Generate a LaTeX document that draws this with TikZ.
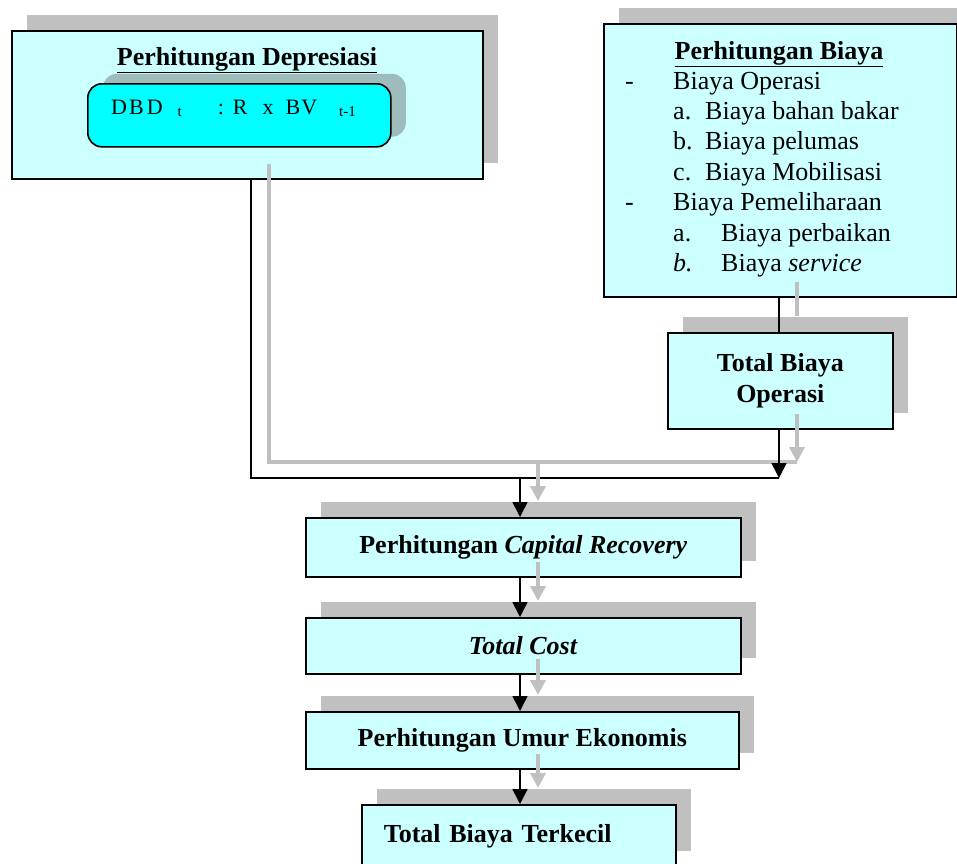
\documentclass[tikz,border=0pt]{standalone}
\usepackage{fontspec}
\setmainfont{Liberation Serif}
\usetikzlibrary{arrows.meta,shadows}
\definecolor{boxcyan}{RGB}{204,255,255}
\definecolor{formcyan}{RGB}{0,255,255}
\definecolor{shadowgray}{RGB}{192,192,192}
\definecolor{formgray}{RGB}{158,188,188}
\newcommand{\subt}[1]{\raisebox{-2pt}{\fontsize{15}{15}\selectfont #1}}
\begin{document}
\begin{tikzpicture}[x=1pt, y=-1pt, font=\fontsize{26}{30.4}\selectfont,
		box/.style = {draw, line width=1.6pt, fill=boxcyan, anchor=north west, inner sep=0pt, font=\fontsize{26}{30.4}\selectfont\bfseries, drop shadow={shadow xshift=15.5pt, shadow yshift=16pt, fill=shadowgray, opacity=1}},
		form/.style = {draw, line width=1.6pt, fill=formcyan, rounded corners=14pt, anchor=north west, inner sep=0pt, drop shadow={shadow xshift=15pt, shadow yshift=10pt, fill=formgray, opacity=1}},
		title/.style = {anchor=base, inner sep=0pt, font=\fontsize{26}{30.4}\selectfont\bfseries},
		conn/.style = {draw=black, line width=1.5pt, preaction={draw=shadowgray, line width=4pt, transform canvas={shift={(18pt,16pt)}}}},
		tip/.style = {-{Triangle[width=15pt,length=15pt]}}]
	\useasboundingbox (0,0) rectangle (957,863);
	% depresiasi
	\node[box, minimum width=471, minimum height=148] (depr) at (11,30) {};
	\node[title] (deprT) at (247,65) {\underline{Perhitungan Depresiasi}};
	\node[form, minimum width=303, minimum height=63] (rumus) at (87,83) {};
	\node[anchor=base west, inner sep=0pt, font=\fontsize{22}{24}\selectfont] (rumusT) at (111,114) {D\hspace{2pt}B\hspace{3pt}D\hspace{15pt}\subt{t}\hspace{36pt}:\hspace{9pt}R\hspace{15pt}x\hspace{12pt}B\hspace{1pt}V\hspace{22pt}\subt{t-1}};
	% biaya
	\node[box, minimum width=353, minimum height=273] (biaya) at (603,23) {};
	\node[title] (biayaT) at (779,59) {\underline{Perhitungan Biaya}};
	\node[anchor=base west, inner sep=0pt] (biayaL) at (625,89) {\begin{tabular}[t]{@{}l@{}}
		\makebox[48pt][l]{-}Biaya Operasi\\
		\hspace{48pt}\makebox[32pt][l]{a.}Biaya bahan bakar\\
		\hspace{48pt}\makebox[32pt][l]{b.}Biaya pelumas\\
		\hspace{48pt}\makebox[32pt][l]{c.}Biaya Mobilisasi\\
		\makebox[48pt][l]{-}Biaya Pemeliharaan\\
		\hspace{48pt}\makebox[48pt][l]{a.}Biaya perbaikan\\
		\hspace{48pt}\makebox[48pt][l]{\textit{b.}}Biaya \textit{service}
	\end{tabular}};
	\node[box, minimum width=225, minimum height=96, align=center] (totop) at (667,332) {Total Biaya\\Operasi};
	% alur bawah
	\node[box, minimum width=435, minimum height=59] (cr) at (305,517) {Perhitungan \textit{Capital Recovery}};
	\node[box, minimum width=435, minimum height=56] (tc) at (305,617) {\textit{Total Cost}};
	\node[box, minimum width=433, minimum height=57] (umur) at (305,711) {Perhitungan Umur Ekonomis};
	\node[box, text width=270, inner xsep=22pt, minimum height=62, align=left] (kecil) at (361,804) {Total Biaya Terkecil};
	\coordinate (bend) at (779,478);
	\coordinate (join) at (520,478);
	\draw[conn] (biaya.south -| bend) -- (totop.north -| bend);
	\draw[conn] ([xshift=3.5pt]depr.south) |- (bend);
	\draw[conn, tip] (totop.south -| bend) -- (bend);
	\draw[conn, tip] (join) -- (cr.north -| join);
	\draw[conn, tip] (cr.south -| join) -- (tc.north -| join);
	\draw[conn, tip] (tc.south -| join) -- (umur.north -| join);
	\draw[conn, tip] (umur.south -| join) -- (kecil.north -| join);
\end{tikzpicture}
\end{document}
